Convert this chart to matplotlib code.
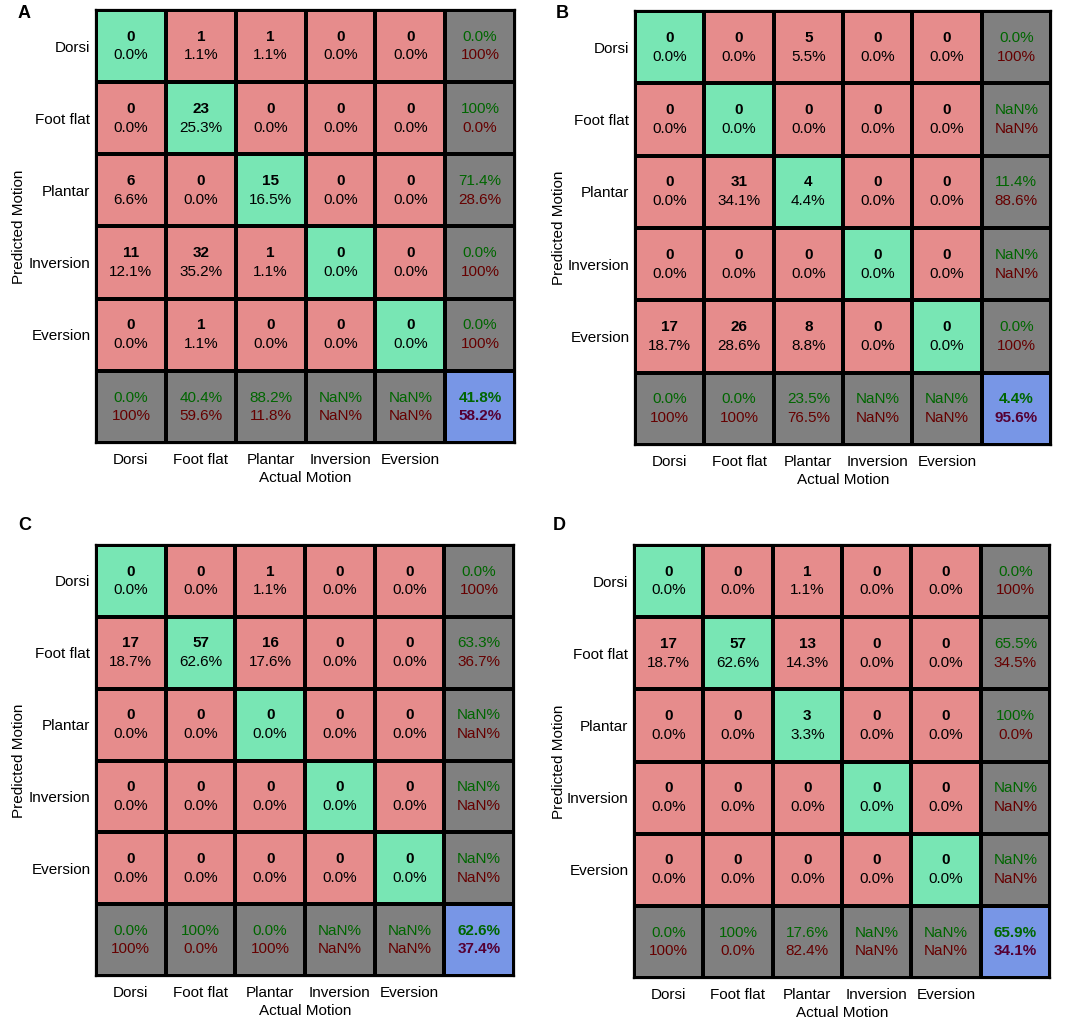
import numpy as np
import matplotlib
matplotlib.use("Agg")
import matplotlib.pyplot as plt
from matplotlib.colors import ListedColormap, BoundaryNorm

plt.rcParams['font.family'] = ['Liberation Sans', 'DejaVu Sans']

# class names (rows = predicted, columns = actual)
classes = ["Dorsi", "Foot flat", "Plantar", "Inversion", "Eversion"]

# confusion counts for the four panels
counts_A = [[0, 1, 1, 0, 0],
            [0, 23, 0, 0, 0],
            [6, 0, 15, 0, 0],
            [11, 32, 1, 0, 0],
            [0, 1, 0, 0, 0]]
counts_B = [[0, 0, 5, 0, 0],
            [0, 0, 0, 0, 0],
            [0, 31, 4, 0, 0],
            [0, 0, 0, 0, 0],
            [17, 26, 8, 0, 0]]
counts_C = [[0, 0, 1, 0, 0],
            [17, 57, 16, 0, 0],
            [0, 0, 0, 0, 0],
            [0, 0, 0, 0, 0],
            [0, 0, 0, 0, 0]]
counts_D = [[0, 0, 1, 0, 0],
            [17, 57, 13, 0, 0],
            [0, 0, 3, 0, 0],
            [0, 0, 0, 0, 0],
            [0, 0, 0, 0, 0]]
panel_letters = ["A", "B", "C", "D"]

RED = "#E68C8C"
GREEN = "#78E6B4"
GRAY = "#808080"
BLUE = "#7896E6"
TXT_GREEN = "#006600"
TXT_RED = "#660000"

W, H = 1084, 1021
fig = plt.figure(figsize=(W / 100, H / 100), dpi=100)

# grid boxes in pixels: left, top, right, bottom
boxes = [(96, 10, 515, 443), (635, 11, 1051, 445),
         (96, 545, 514, 976), (634, 545, 1050, 978)]
letter_pos = [(18, 14), (556, 13), (18, 525), (553, 525)]
ylabel_x = [19, 559, 19, 559]


def fmt(v):
    if np.isnan(v):
        return "NaN%"
    if round(v, 1) == 100:
        return "100%"
    return f"{v:.1f}%"


def draw_panel(counts, box, letter, lpos, ylx):
    cm = np.array(counts, dtype=float)
    n = cm.shape[0]
    total = cm.sum()
    diag = np.diag(cm)
    with np.errstate(invalid="ignore", divide="ignore"):
        row_acc = diag / cm.sum(axis=1) * 100
        col_acc = diag / cm.sum(axis=0) * 100
    overall = diag.sum() / total * 100

    # colour index for each cell
    idx = np.zeros((n + 1, n + 1))
    idx[np.arange(n), np.arange(n)] = 1
    idx[:n, n] = 2
    idx[n, :n] = 2
    idx[n, n] = 3

    l, t, r, b = box
    ax = fig.add_axes([l / W, 1 - b / H, (r - l) / W, (b - t) / H])
    cmap = ListedColormap([RED, GREEN, GRAY, BLUE])
    norm = BoundaryNorm([-0.5, 0.5, 1.5, 2.5, 3.5], cmap.N)
    ax.pcolormesh(np.arange(n + 2), np.arange(n + 2), idx, cmap=cmap, norm=norm,
                  edgecolors="black", linewidth=1.6)
    ax.set_xlim(0, n + 1)
    ax.set_ylim(n + 1, 0)
    for s in ax.spines.values():
        s.set_linewidth(1.6)

    fs = 11
    for i in range(n):
        for j in range(n):
            ax.text(j + 0.5, i + 0.37, f"{int(cm[i, j])}", ha="center", va="center",
                    fontsize=fs, fontweight="bold", color="black")
            ax.text(j + 0.5, i + 0.63, fmt(cm[i, j] / total * 100), ha="center",
                    va="center", fontsize=fs, color="black")
        # row summary
        ax.text(n + 0.5, i + 0.37, fmt(row_acc[i]), ha="center", va="center",
                fontsize=fs, color=TXT_GREEN)
        ax.text(n + 0.5, i + 0.63, fmt(100 - row_acc[i]), ha="center", va="center",
                fontsize=fs, color=TXT_RED)
    for j in range(n):
        ax.text(j + 0.5, n + 0.37, fmt(col_acc[j]), ha="center", va="center",
                fontsize=fs, color=TXT_GREEN)
        ax.text(j + 0.5, n + 0.63, fmt(100 - col_acc[j]), ha="center", va="center",
                fontsize=fs, color=TXT_RED)
    ax.text(n + 0.5, n + 0.37, fmt(overall), ha="center", va="center",
            fontsize=fs, fontweight="bold", color=TXT_GREEN)
    ax.text(n + 0.5, n + 0.63, fmt(100 - overall), ha="center", va="center",
            fontsize=fs, fontweight="bold", color="#550033")

    ax.set_xticks(np.arange(n) + 0.5)
    ax.set_xticklabels(classes, fontsize=11)
    ax.set_yticks(np.arange(n) + 0.5)
    ax.set_yticklabels(classes, fontsize=11)
    ax.tick_params(axis="x", length=0, pad=7)
    ax.tick_params(axis="y", length=0, pad=4)
    ax.set_xlabel("Actual Motion", fontsize=11, labelpad=3)

    fig.text(ylx / W, 1 - (t + b) / 2 / H, "Predicted Motion", rotation=90,
             ha="center", va="center", fontsize=11)
    fig.text(lpos[0] / W, 1 - lpos[1] / H, letter, ha="left", va="center",
             fontsize=13, fontweight="bold")


for cm_, box, let, lp, ylx in zip([counts_A, counts_B, counts_C, counts_D], boxes,
                                  panel_letters, letter_pos, ylabel_x):
    draw_panel(cm_, box, let, lp, ylx)

fig.savefig("out.png", dpi=100)
